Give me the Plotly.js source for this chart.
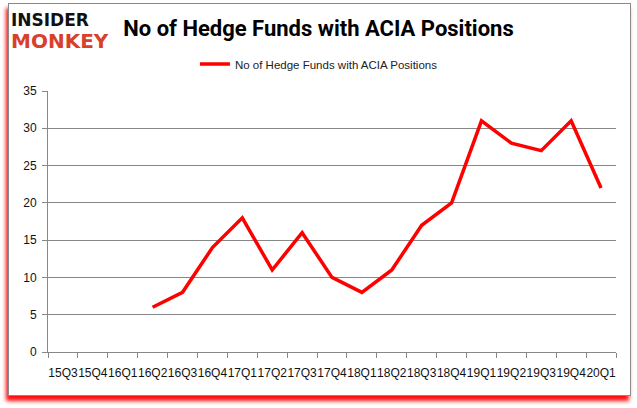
<!DOCTYPE html>
<html>
<head>
<meta charset="utf-8">
<script src="https://cdn.plot.ly/plotly-3.0.1.min.js"></script>
<style>
  html, body { margin: 0; padding: 0; background: #ffffff; }
  #frame { position: absolute; left: 8px; top: 3px; width: 621px; height: 391px;
           border: 1px solid #8a8a8a; background: #ffffff;
           box-shadow: -2px 5px 4px rgba(255,0,0,0.95); }
  #chart { position: absolute; left: 0; top: 0; width: 637px; height: 408px; }
</style>
</head>
<body>
<div id="frame"></div>
<div id="chart"></div>
<script>
const quarters = ["15Q3","15Q4","16Q1","16Q2","16Q3","16Q4","17Q1","17Q2","17Q3","17Q4",
                  "18Q1","18Q2","18Q3","18Q4","19Q1","19Q2","19Q3","19Q4","20Q1"];
const hedgeFunds = [null, null, null, 6, 8, 14, 18, 11, 16, 10,
                    8, 11, 17, 20, 31, 28, 27, 31, 22];
const seriesName = "No of Hedge Funds with ACIA Positions";
const chartTitle = "No of Hedge Funds with ACIA Positions";
const yTicks = [0, 5, 10, 15, 20, 25, 30, 35];

const trace = {
  x: quarters, y: hedgeFunds, type: "scatter", mode: "lines",
  name: seriesName, connectgaps: false,
  line: { color: "#ff0000", width: 3.5 }
};

const layout = {
  width: 637, height: 408,
  paper_bgcolor: "rgba(0,0,0,0)", plot_bgcolor: "rgba(0,0,0,0)",
  margin: { l: 48, r: 21, t: 91, b: 56 },
  font: { family: "Liberation Sans, Arial, sans-serif", color: "#222" },
  title: { text: chartTitle, x: 0.5, xref: "container", xanchor: "center",
           y: 0.93, yref: "container", yanchor: "middle",
           font: { family: "Roboto, Liberation Sans, sans-serif", size: 22, color: "#000", weight: 700 } },
  showlegend: true,
  legend: { orientation: "h", x: 0.477, xanchor: "center", y: 1.103, yanchor: "middle",
            font: { size: 11.5, color: "#222" }, bgcolor: "rgba(0,0,0,0)" },
  xaxis: { type: "category", range: [-0.5, 18.5], tickson: "boundaries",
           ticks: "outside", ticklen: 5, tickcolor: "#888", tickwidth: 1, tickangle: 0,
           ticklabelstandoff: 10,
           showline: true, linecolor: "#888", linewidth: 1, showgrid: false,
           tickfont: { size: 12, color: "#111" }, fixedrange: true },
  yaxis: { range: [0, 35], tickvals: yTicks, ticks: "outside", ticklen: 5,
           ticklabelstandoff: 3,
           tickcolor: "#888", showline: true, linecolor: "#888", linewidth: 1,
           showgrid: true, gridcolor: "#888", gridwidth: 1, zeroline: false,
           tickfont: { size: 12, color: "#111" }, fixedrange: true },
  annotations: [
    { text: "<b>INSIDER</b><br><b><span style='color:#d8402c;font-size:20px'>MONKEY</span></b>",
      xref: "paper", yref: "paper", x: -0.068, y: 1.228,
      xanchor: "left", yanchor: "middle", align: "left", showarrow: false,
      font: { family: "DejaVu Sans, sans-serif", size: 17, color: "#111" } }
  ]
};

Plotly.newPlot("chart", [trace], layout, { displayModeBar: false, staticPlot: true });
</script>
</body>
</html>
